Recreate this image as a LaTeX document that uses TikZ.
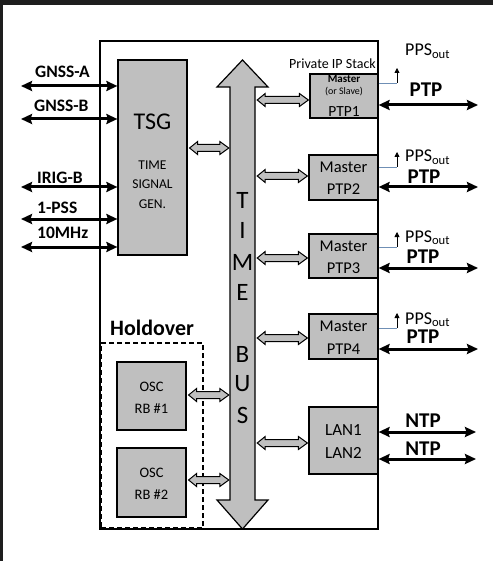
\documentclass[tikz,border=0pt]{standalone}
\usepackage{fontspec}
\setmainfont{Carlito}
\usetikzlibrary{arrows.meta,calc}
\definecolor{boxgray}{HTML}{BFBFBF}
\definecolor{darkbg}{HTML}{1E1E1E}
\definecolor{ppsblue}{HTML}{6F8FB5}
\newcommand\fs[1]{\fontsize{#1}{#1}\selectfont}
% hollow double arrow between the x of two anchors at a given y
\newcommand\harrow[3]{%
  \filldraw[hollow] let \p1=(#1), \p2=(#2), \p3=(0,#3) in
    (\x1+2pt,\y3) -- (\x1+10pt,\y3+6.5pt) -- (\x1+10pt,\y3+3.5pt) --
    (\x2-10pt,\y3+3.5pt) -- (\x2-10pt,\y3+6.5pt) -- (\x2-1pt,\y3) --
    (\x2-10pt,\y3-6.5pt) -- (\x2-10pt,\y3-3.5pt) -- (\x1+10pt,\y3-3.5pt) --
    (\x1+10pt,\y3-6.5pt) -- cycle;}
\begin{document}
\begin{tikzpicture}[x=1pt,y=-1pt,
  graybox/.style={draw=black,fill=boxgray,line width=1.2pt,inner sep=0pt},
  hollow/.style={draw=black,fill=boxgray,line width=1pt,line join=miter},
  bigarr/.style={line width=3pt,{Stealth[length=11pt,width=10pt,inset=1.5pt]}-{Stealth[length=11pt,width=10pt,inset=1.5pt]}},
  ppsline/.style={ppsblue,line width=0.8pt},
  ppsarr/.style={black,line width=0.8pt,-{Triangle[length=5pt,width=5pt]}},
  lbl/.style={anchor=base,inner sep=0pt},
  lblw/.style={anchor=base west,inner sep=0pt}]
\useasboundingbox (0,0) rectangle (493,561);
\fill[darkbg] (0,0) rectangle (493,561);
\fill[white] (3,5) rectangle (500,570);

% main frame
\node[draw=black,fill=white,line width=1.2pt,minimum width=278pt,minimum height=488pt,inner sep=0pt] (main) at (239,285) {};
% holdover dashed box
\node[draw=black,dash pattern=on 5pt off 3pt,line width=1.3pt,minimum width=102pt,minimum height=185pt,inner sep=0pt] (hold) at (152,435.5) {};
\node[lblw,font=\bfseries\fs{22}] (holdlbl) at (110,335) {Holdover};

% boxes
\node[graybox,minimum width=69pt,minimum height=195pt] (tsg) at (152.5,157.5) {};
\node[graybox,minimum width=68pt,minimum height=44pt] (ptp1) at (344,96) {};
\node[graybox,minimum width=69pt,minimum height=45pt] (ptp2) at (343.5,177.5) {};
\node[graybox,minimum width=69pt,minimum height=44pt] (ptp3) at (343.5,256) {};
\node[graybox,minimum width=69pt,minimum height=45pt] (ptp4) at (343.5,336.5) {};
\node[graybox,minimum width=69pt,minimum height=67pt] (lan) at (343.5,440.5) {};
\node[graybox,minimum width=69pt,minimum height=68pt] (osc1) at (151.5,396) {};
\node[graybox,minimum width=69pt,minimum height=69pt] (osc2) at (151.5,482.5) {};

% box texts
\node[lbl,font=\fs{24}] (tsgt) at (152.5,130) {TSG};
\node[lbl,font=\fs{13.5}] (tsg1) at (152.5,170) {TIME};
\node[lbl,font=\fs{13.5}] (tsg2) at (152.5,189) {SIGNAL};
\node[lbl,font=\fs{13.5}] (tsg3) at (152.5,208) {GEN.};
\node[lbl,font=\bfseries\fs{11}] (p1a) at (344,83) {Master};
\node[lbl,font=\fs{10}] (p1b) at (344,95) {(or Slave)};
\node[lbl,font=\fs{15.5}] (p1c) at (344,117) {PTP1};
\node[anchor=base east,inner sep=0pt,font=\fs{14}] (pips) at (376,69) {Private IP Stack};
\node[lbl,font=\fs{16.5}] (p2a) at (343.5,173) {Master};
\node[lbl,font=\fs{16.5}] (p2b) at (343.5,195) {PTP2};
\node[lbl,font=\fs{16.5}] (p3a) at (343.5,251) {Master};
\node[lbl,font=\fs{16.5}] (p3b) at (343.5,273) {PTP3};
\node[lbl,font=\fs{16.5}] (p4a) at (343.5,331) {Master};
\node[lbl,font=\fs{16.5}] (p4b) at (343.5,354) {PTP4};
\node[lbl,font=\fs{17}] (lana) at (343.5,435) {LAN1};
\node[lbl,font=\fs{17}] (lanb) at (343.5,458) {LAN2};
\node[lbl,font=\fs{14.5}] (o1a) at (151.5,391) {OSC};
\node[lbl,font=\fs{14.5}] (o1b) at (151.5,413) {RB \#1};
\node[lbl,font=\fs{14.5}] (o2a) at (151.5,477) {OSC};
\node[lbl,font=\fs{14.5}] (o2b) at (151.5,499) {RB \#2};

% time bus
\node[minimum width=25pt,minimum height=413pt,inner sep=0pt] (bus) at (242.5,293.5) {};
\filldraw[fill=boxgray,draw=black,line width=1.2pt,line join=miter]
  (242.5,60) -- (268,87) -- (255,87) -- (255,500) -- (268,500) -- (242.5,529)
  -- (217,500) -- (230,500) -- (230,87) -- (217,87) -- cycle;
\foreach \l/\yy/\nm in {T/208/bt, I/238/bi, M/270/bm, E/300/be, B/362/bb, U/391/bu, S/423/bs}
  \node[lbl,font=\fs{25}] (\nm) at (242.5,\yy) {\l};

% hollow arrows
\harrow{tsg.east}{bus.west}{148}
\harrow{bus.east}{ptp1.west}{100}
\harrow{bus.east}{ptp2.west}{176}
\harrow{bus.east}{ptp3.west}{258}
\harrow{bus.east}{ptp4.west}{338}
\harrow{bus.east}{lan.west}{443}
\harrow{osc1.east}{bus.west}{395}
\harrow{osc2.east}{bus.west}{480}

% left inputs
\coordinate (inA) at (21,86);
\coordinate (inB) at (21,119);
\coordinate (inI) at (21,187);
\coordinate (inP) at (21,219);
\coordinate (inM) at (21,247);
\foreach \c in {inA,inB,inI,inP,inM}
  \draw[bigarr] (\c) -- (tsg.west |- \c);
\node[lblw,font=\bfseries\fs{17.5}] (lgA) at (35,78) {GNSS-A};
\node[lblw,font=\bfseries\fs{17.5}] (lgB) at (34,112) {GNSS-B};
\node[lblw,font=\bfseries\fs{17.5}] (lgI) at (37,183) {IRIG-B};
\node[lblw,font=\bfseries\fs{17.5}] (lgP) at (37,213) {1-PSS};
\node[lblw,font=\bfseries\fs{17.5}] (lgM) at (37,238) {10MHz};

% right outputs
\coordinate (o1) at (478,105);
\coordinate (o2) at (478,187);
\coordinate (o3) at (478,268);
\coordinate (o4) at (478,349);
\coordinate (o5) at (476,432);
\coordinate (o6) at (476,459);
\draw[bigarr] (ptp1.east |- o1) -- (o1);
\draw[bigarr] (ptp2.east |- o2) -- (o2);
\draw[bigarr] (ptp3.east |- o3) -- (o3);
\draw[bigarr] (ptp4.east |- o4) -- (o4);
\draw[bigarr] (lan.east |- o5) -- (o5);
\draw[bigarr] (lan.east |- o6) -- (o6);
\node[lbl,font=\bfseries\fs{21}] (t1) at (426,97) {PTP};
\node[lbl,font=\bfseries\fs{21}] (t2) at (424,183) {PTP};
\node[lbl,font=\bfseries\fs{21}] (t3) at (423,263) {PTP};
\node[lbl,font=\bfseries\fs{21}] (t4) at (423,343) {PTP};
\node[lbl,font=\bfseries\fs{21}] (t5) at (423,427) {NTP};
\node[lbl,font=\bfseries\fs{21}] (t6) at (423,455) {NTP};

% PPS outputs
\foreach \bx/\yl/\yt/\yb/\nm in {ptp1/83/68/56/s1, ptp2/167/152/162/s2, ptp3/247/232/242/s3, ptp4/328/313/324/s4}{
  \coordinate (\nm c) at (397,\yl);
  \coordinate (\nm t) at (397,\yt);
  \draw[ppsline] (\bx.east |- \nm c) -- (\nm c);
  \draw[ppsarr] (\nm c) -- (\nm t);
  \node[lblw,font=\fs{18}] (\nm l) at (405,\yb) {PPS\textsubscript{out}};
}
\end{tikzpicture}
\end{document}
